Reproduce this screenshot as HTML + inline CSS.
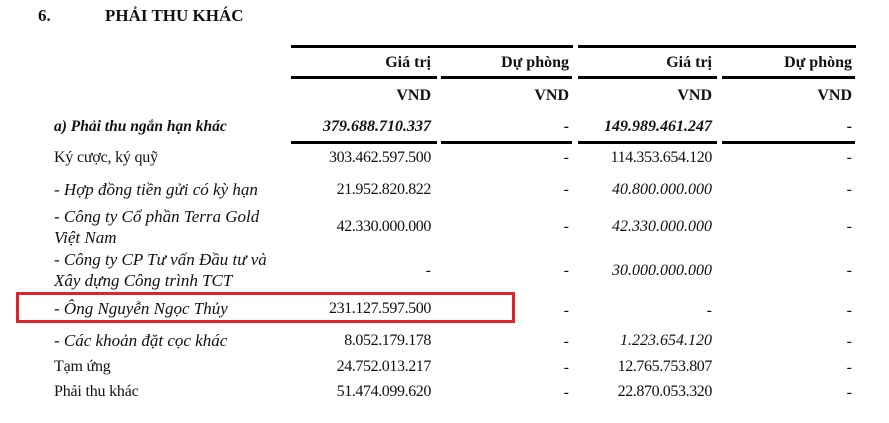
<!DOCTYPE html>
<html><head><meta charset="utf-8"><style>
body{margin:0;width:889px;height:423px;background:#fff;position:relative;overflow:hidden;font-family:"Liberation Serif",serif;color:#111}
.t{position:absolute;white-space:nowrap;font-size:16px;line-height:18px}
.r{transform:translateX(-100%)}
.b{font-weight:bold}.i{font-style:italic}
.c{letter-spacing:-0.4px}
.li{font-size:17px;letter-spacing:0}
.l{position:absolute;height:3px;background:#000}
</style></head><body>
<div class="t b" style="left:38px;top:7px;font-size:17px">6.</div>
<div class="t b" style="left:105px;top:7px;font-size:17px">PHẢI THU KHÁC</div>

<div class="l" style="left:291px;top:45px;width:282px"></div>
<div class="l" style="left:578px;top:45px;width:278px"></div>
<div class="l" style="left:291px;top:76px;width:146px"></div>
<div class="l" style="left:441px;top:76px;width:131px"></div>
<div class="l" style="left:578px;top:76px;width:139px"></div>
<div class="l" style="left:722px;top:76px;width:133px"></div>
<div class="l" style="left:291px;top:141px;width:146px"></div>
<div class="l" style="left:441px;top:141px;width:131px"></div>
<div class="l" style="left:578px;top:141px;width:139px"></div>
<div class="l" style="left:722px;top:141px;width:133px"></div>

<div class="t b r" style="left:431px;top:54px">Giá trị</div>
<div class="t b r" style="left:569px;top:54px">Dự phòng</div>
<div class="t b r" style="left:712px;top:54px">Giá trị</div>
<div class="t b r" style="left:852px;top:54px">Dự phòng</div>
<div class="t b r" style="left:431px;top:87px">VND</div>
<div class="t b r" style="left:569px;top:87px">VND</div>
<div class="t b r" style="left:712px;top:87px">VND</div>
<div class="t b r" style="left:852px;top:87px">VND</div>

<div class="t b i" style="left:54px;top:118px;font-size:15.5px">a) Phải thu ngắn hạn khác</div>
<div class="t b i r" style="left:431px;top:118px">379.688.710.337</div>
<div class="t b r" style="left:569px;top:118px">-</div>
<div class="t b i r" style="left:712px;top:118px">149.989.461.247</div>
<div class="t b r" style="left:852px;top:118px">-</div>

<div class="t" style="left:54px;top:149px;letter-spacing:-0.2px">Ký cược, ký quỹ</div>
<div class="t c r" style="left:431px;top:149px">303.462.597.500</div>
<div class="t r" style="left:569px;top:149px">-</div>
<div class="t c r" style="left:712px;top:149px">114.353.654.120</div>
<div class="t r" style="left:852px;top:149px">-</div>

<div class="t i li" style="left:54px;top:181px">- Hợp đồng tiền gửi có kỳ hạn</div>
<div class="t c r" style="left:431px;top:181px">21.952.820.822</div>
<div class="t r" style="left:569px;top:181px">-</div>
<div class="t i r" style="left:712px;top:181px">40.800.000.000</div>
<div class="t r" style="left:852px;top:181px">-</div>

<div class="t i li" style="left:54px;top:208px">- Công ty Cổ phần Terra Gold</div>
<div class="t i li" style="left:54px;top:229px">Việt Nam</div>
<div class="t c r" style="left:431px;top:218px">42.330.000.000</div>
<div class="t r" style="left:569px;top:218px">-</div>
<div class="t i r" style="left:712px;top:218px">42.330.000.000</div>
<div class="t r" style="left:852px;top:218px">-</div>

<div class="t i li" style="left:54px;top:251px">- Công ty CP Tư vấn Đầu tư và</div>
<div class="t i li" style="left:54px;top:272px">Xây dựng Công trình TCT</div>
<div class="t r" style="left:431px;top:262px">-</div>
<div class="t r" style="left:569px;top:262px">-</div>
<div class="t i r" style="left:712px;top:262px">30.000.000.000</div>
<div class="t r" style="left:852px;top:262px">-</div>

<div style="position:absolute;left:16px;top:292px;width:493px;height:25px;border:3px solid #e0242c"></div>
<div class="t i li" style="left:54px;top:300px">- Ông Nguyễn Ngọc Thủy</div>
<div class="t c r" style="left:431px;top:300px">231.127.597.500</div>
<div class="t r" style="left:569px;top:302px">-</div>
<div class="t r" style="left:712px;top:302px">-</div>
<div class="t r" style="left:852px;top:302px">-</div>

<div class="t i li" style="left:54px;top:332px">- Các khoản đặt cọc khác</div>
<div class="t c r" style="left:431px;top:332px">8.052.179.178</div>
<div class="t r" style="left:569px;top:333px">-</div>
<div class="t i r" style="left:712px;top:332px">1.223.654.120</div>
<div class="t r" style="left:852px;top:333px">-</div>

<div class="t" style="left:54px;top:358px;letter-spacing:-0.2px">Tạm ứng</div>
<div class="t c r" style="left:431px;top:358px">24.752.013.217</div>
<div class="t r" style="left:569px;top:359px">-</div>
<div class="t c r" style="left:712px;top:358px">12.765.753.807</div>
<div class="t r" style="left:852px;top:359px">-</div>

<div class="t" style="left:54px;top:383px;letter-spacing:-0.2px">Phải thu khác</div>
<div class="t c r" style="left:431px;top:383px">51.474.099.620</div>
<div class="t r" style="left:569px;top:384px">-</div>
<div class="t c r" style="left:712px;top:383px">22.870.053.320</div>
<div class="t r" style="left:852px;top:384px">-</div>
</body></html>
